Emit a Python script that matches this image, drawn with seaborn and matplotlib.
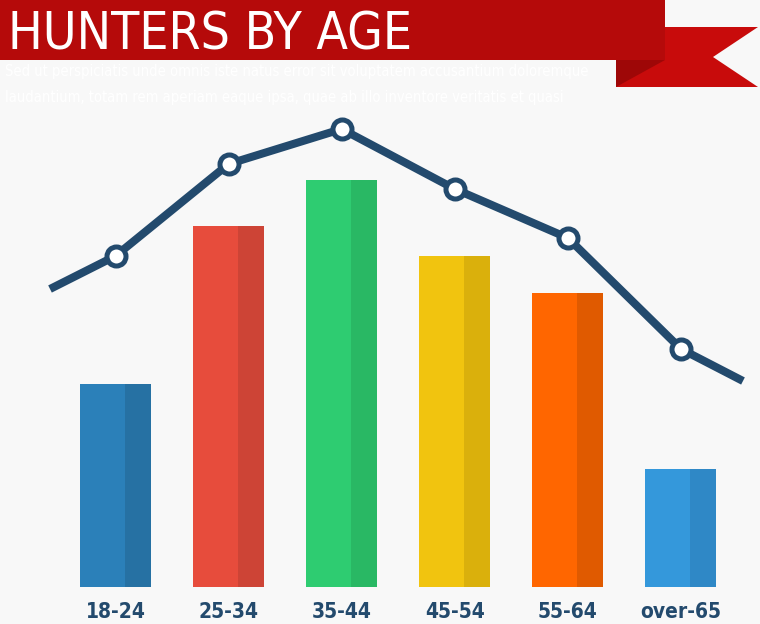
import matplotlib
matplotlib.use("Agg")
import matplotlib.pyplot as plt
import seaborn as sns
import pandas as pd
from matplotlib.patches import Polygon, Rectangle

# data
ages = ["18-24", "25-34", "35-44", "45-54", "55-64", "over-65"]
bar_values = [20.3, 36.1, 40.7, 33.1, 29.4, 11.8]
line_values = [33.1, 42.3, 45.8, 39.8, 34.9, 23.8]
line_start = 29.8   # value where the trend line enters at the left
line_end = 20.6     # value where it leaves at the right

title = "HUNTERS BY AGE"
subtitle = ("Sed ut perspiciatis unde omnis iste natus error sit voluptatem accusantium doloremque\n"
            "laudantium, totam rem aperiam eaque ipsa, quae ab illo inventore veritatis et quasi")

light = ["#2b80b9", "#e74c3c", "#2ecc71", "#f1c40f", "#ff6600", "#3498db"]
dark = ["#2671a3", "#cd4436", "#29b864", "#dab00c", "#e05a00", "#2f88c6"]
navy = "#234a6d"
bg = "#f8f8f8"

sns.set_style("white")
plt.rcParams['font.family'] = ['DejaVu Sans']
plt.rcParams['font.stretch'] = 'condensed'

W, H = 760, 624
fig = plt.figure(figsize=(7.6, 6.24), dpi=100, facecolor=bg)

# chart axes: 113.1 px per category, 10 px per unit
step = 113.1
x0 = 115.5
ax = fig.add_axes([0, (H - 587) / H, 1, 587 / H])
ax.set_facecolor(bg)

df = pd.DataFrame({"age": ages, "value": bar_values})
sns.barplot(data=df, x="age", y="value", hue="age", palette=light, legend=False,
            width=71 / step, saturation=1, linewidth=0, ax=ax, zorder=2)

# darker right-hand strip of each bar
dw = 26 / step
pos = list(range(len(ages)))
ax.bar([p + (71 / step) / 2 - dw / 2 for p in pos], bar_values, width=dw,
       color=dark, linewidth=0, zorder=3)

# trend line with open markers
stub_l, stub_r = 0.579, 0.548
lx = [pos[0] - stub_l] + pos + [pos[-1] + stub_r]
ly = [line_start] + line_values + [line_end]
ax.plot(lx, ly, color=navy, lw=5.8, solid_capstyle="butt", zorder=4, clip_on=False)
ax.plot(pos, line_values, ls="none", marker="o", ms=13.7, mfc="white", mec=navy,
        mew=3.6, zorder=5, clip_on=False)

ax.set_xlim(-x0 / step, (W - x0) / step)
ax.set_ylim(0, 58.7)
ax.set_xlabel("")
ax.set_ylabel("")
ax.set_yticks([])
ax.set_xticks(pos)
ax.set_xticklabels(ages, fontsize=15, fontweight="bold", color=navy)
ax.tick_params(axis="x", length=0, pad=11)
sns.despine(ax=ax, left=True, bottom=True)

# banner
ov = fig.add_axes([0, 0, 1, 1], zorder=10)
ov.set_xlim(0, W)
ov.set_ylim(H, 0)
ov.axis("off")
ov.text(5, 64, subtitle, color="white", fontsize=10.5, va="top", ha="left", linespacing=1.9)
ov.add_patch(Polygon([(616, 27), (758, 27), (713, 57), (758, 87), (616, 87)],
                     closed=True, color="#c80b0b", lw=0))
ov.add_patch(Polygon([(616, 60), (665, 60), (616, 87)], closed=True, color="#9e0707", lw=0))
ov.add_patch(Rectangle((0, 0), 665, 60, color="#b50a0a", lw=0))
ov.text(8, 50, title, color="white", fontsize=37, va="baseline", ha="left")

fig.savefig("out.png", dpi=100, facecolor=bg)
